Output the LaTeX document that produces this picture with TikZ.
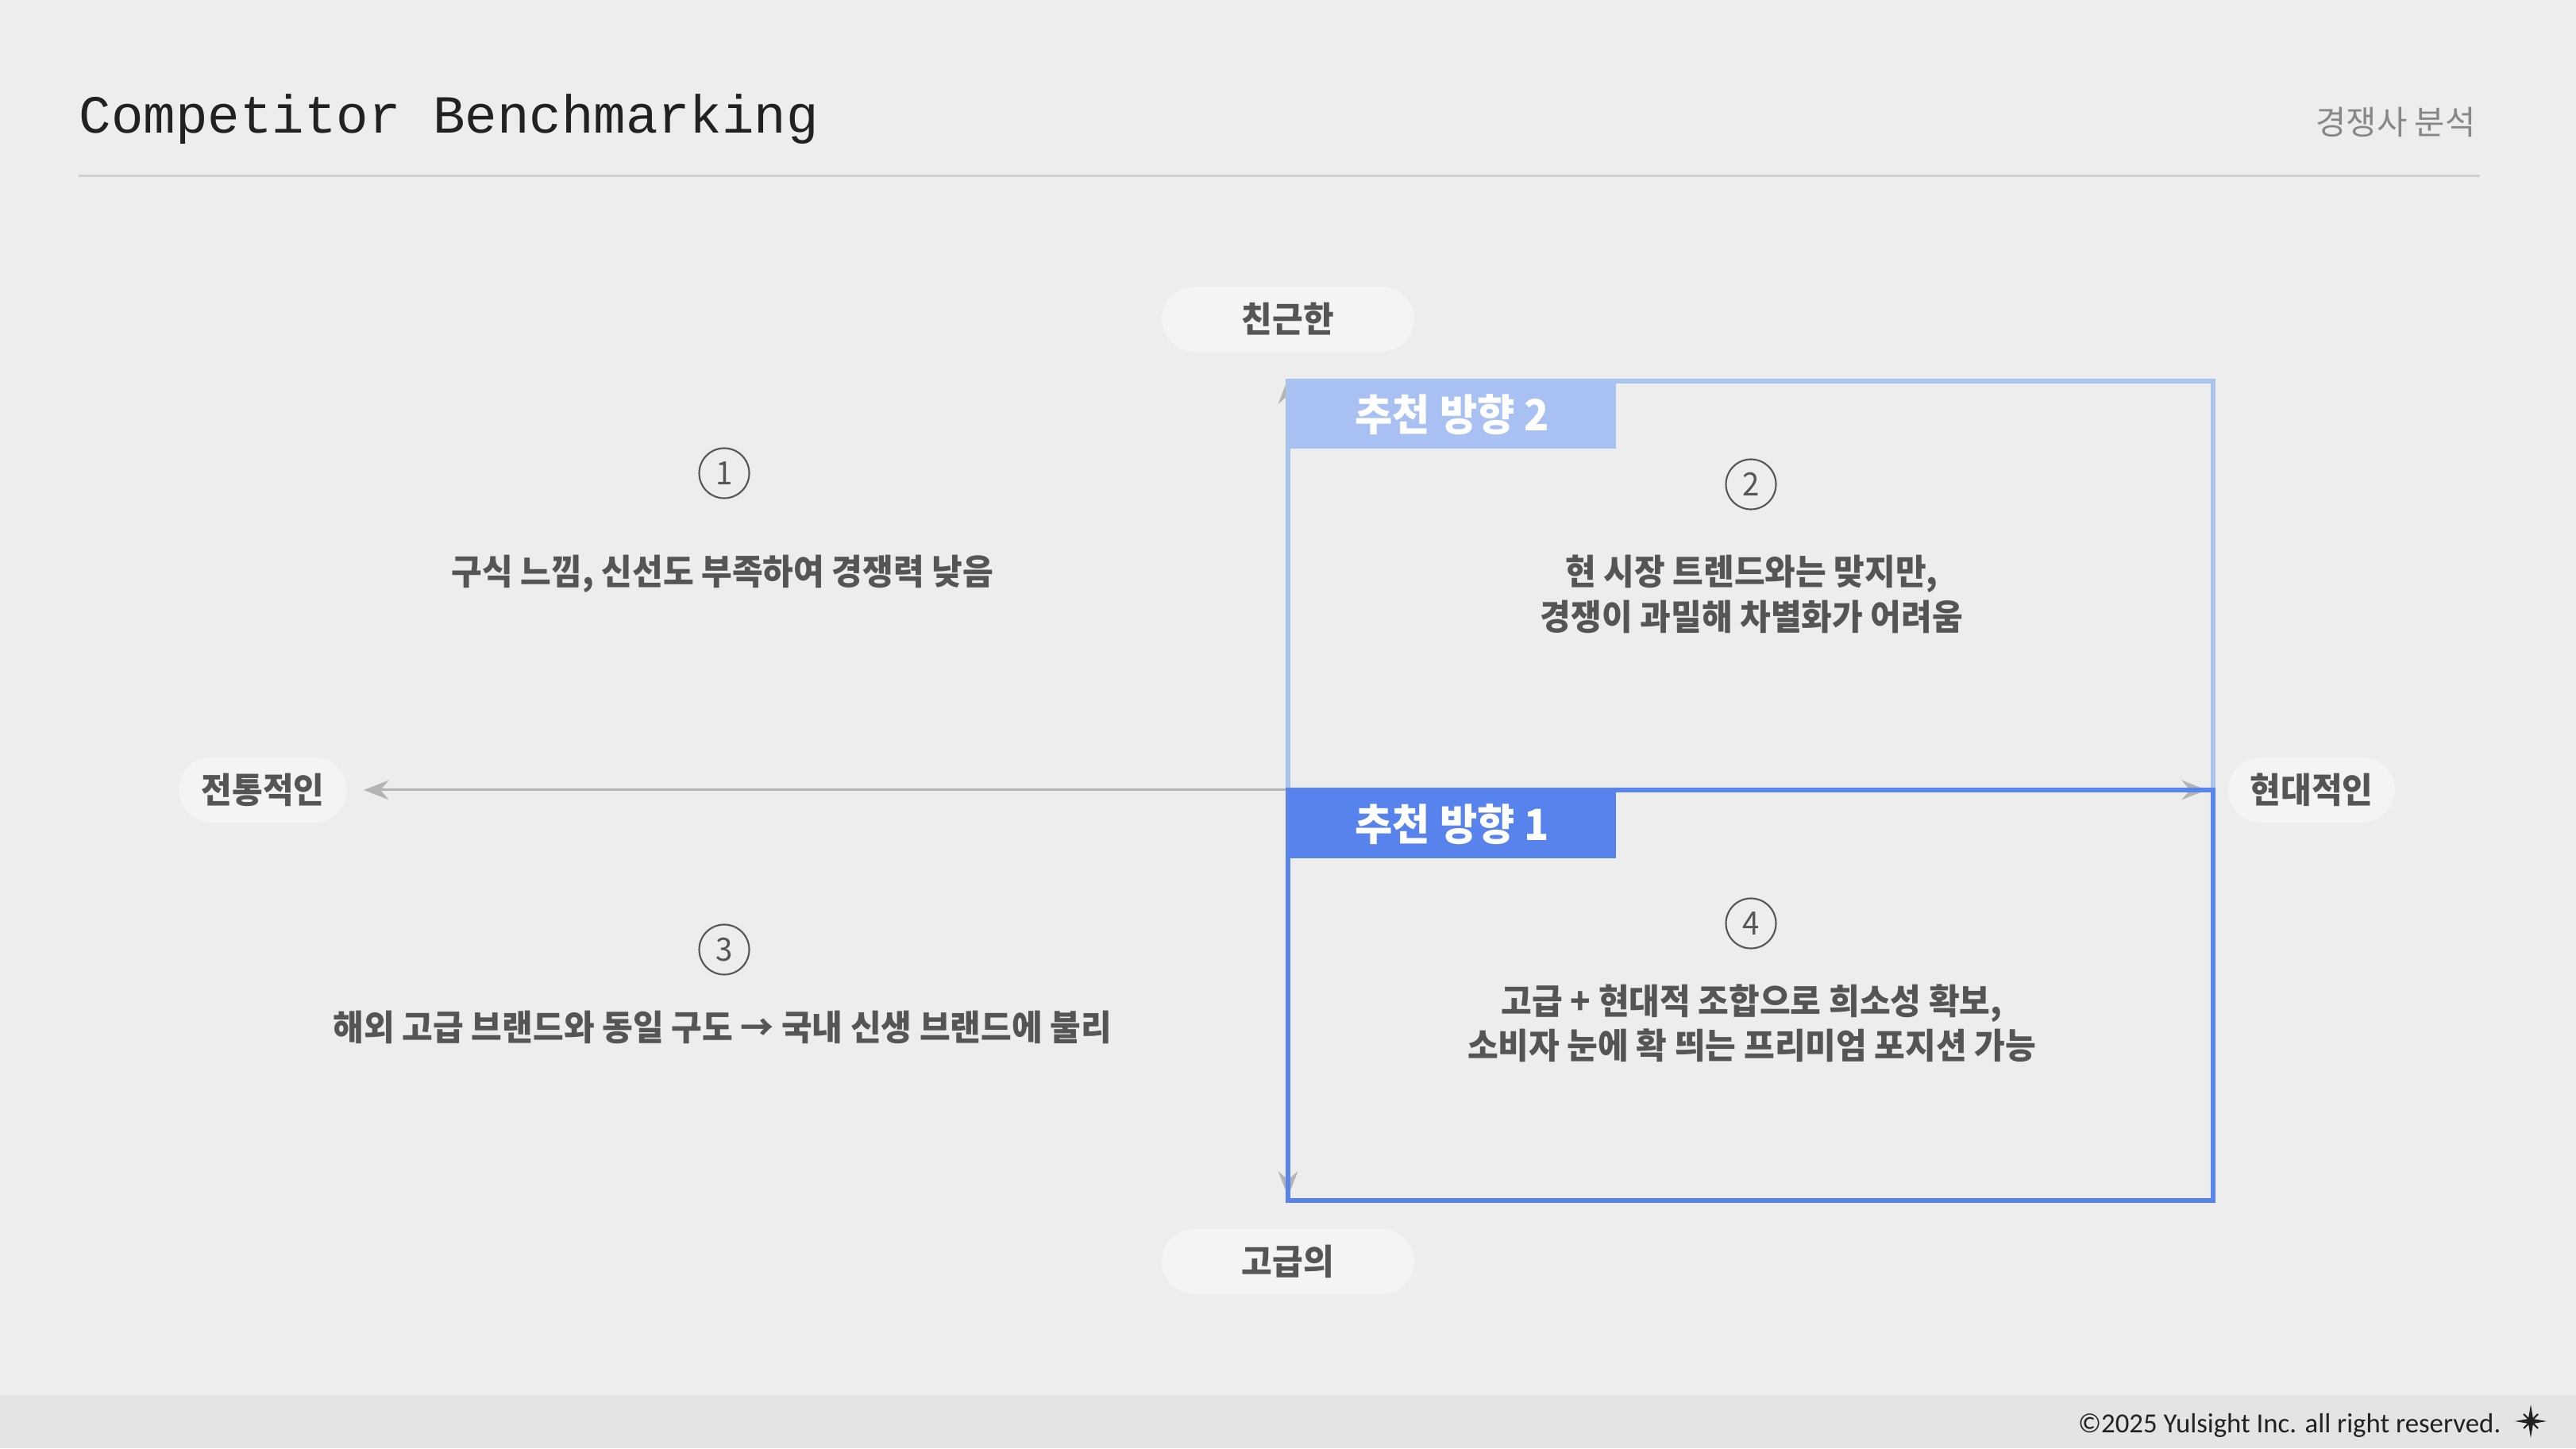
\documentclass[tikz,border=0pt]{standalone}
\usepackage{fontspec}
\usetikzlibrary{arrows.meta}

\setmainfont{Noto Sans CJK KR}
\newfontfamily\krfont[FakeStretch=0.95]{Noto Sans CJK KR}
\newfontfamily\titlefont{Liberation Mono}
\newfontfamily\footfont{Carlito}

\definecolor{bgGray}{HTML}{EDEDED}
\definecolor{footGray}{HTML}{E4E4E4}
\definecolor{ruleGray}{HTML}{CFCFCF}
\definecolor{axisGray}{HTML}{B4B4B4}
\definecolor{pillFill}{HTML}{F4F4F4}
\definecolor{txtGray}{HTML}{555555}
\definecolor{lightBorder}{HTML}{A7C5EA}
\definecolor{lightTab}{HTML}{A9C1F2}
\definecolor{darkBorder}{HTML}{5884EC}
\definecolor{darkTab}{HTML}{5883EC}

\tikzset{
	pill/.style={fill=pillFill, rounded corners=0.41cm, minimum height=0.82cm, inner sep=0pt, text=txtGray, font=\krfont\bfseries\fontsize{12.6}{14}\selectfont},
	axis/.style={draw=axisGray, line width=0.85pt, -{Stealth[length=9pt, width=7pt, inset=3pt]}},
	tab/.style={anchor=north west, minimum width=4.12cm, minimum height=0.85cm, inner sep=0pt, text=white, font=\krfont\bfseries\fontsize{15.4}{16}\selectfont},
	num/.style={circle, draw=txtGray, line width=0.6pt, minimum size=0.63cm, inner sep=0pt, text=txtGray, font=\krfont\fontsize{11.5}{12}\selectfont},
	body/.style={align=center, inner sep=0pt, text=txtGray, font=\krfont\bfseries\fontsize{12.6}{16}\selectfont}
}

\begin{document}
\begin{tikzpicture}

	\useasboundingbox (0,0) rectangle (32.44,18.24);
	\fill[bgGray] (0,0) rectangle (32.44,18.24);
	\fill[footGray] (0,0) rectangle (32.44,0.67);

	% header
	\node[anchor=base west, inner sep=0pt, text=black!87, font=\titlefont\fontsize{19.2}{20}\selectfont] (title) at (0.99,16.56) {Competitor Benchmarking};
	\node[anchor=east, inner sep=0pt, text=black!47, font=\fontsize{11.85}{13}\selectfont] (subtitle) at (31.18,16.70) {경쟁사 분석};
	\draw[ruleGray, line width=0.85pt] (0.99,16.02) -- (31.23,16.02);

	% axes
	\coordinate (o) at (16.22,8.29);
	\coordinate (tipW) at (4.58,8.29);
	\coordinate (tipE) at (27.79,8.29);
	\coordinate (tipN) at (16.22,13.47);
	\coordinate (tipS) at (16.22,3.17);
	\draw[axis] (o) -- (tipW);
	\draw[axis] (o) -- (tipE);
	\draw[axis] (o) -- (tipN);
	\draw[axis] (o) -- (tipS);

	\node[pill, minimum width=3.18cm] (friendly) at (16.22,14.22) {친근한};
	\node[pill, minimum width=3.18cm] (luxury) at (16.22,2.35) {고급의};
	\node[pill, minimum width=2.12cm] (classic) at (3.31,8.29) {전통적인};
	\node[pill, minimum width=2.10cm] (modern) at (29.11,8.29) {현대적인};

	% recommended boxes
	\draw[lightBorder, line width=1.7pt] (16.22,8.29) rectangle (27.87,13.44);
	\node[tab, fill=lightTab] (tabTwo) at (16.22,13.45) {추천 방향 2};
	\draw[darkBorder, line width=1.7pt] (16.22,3.12) rectangle (27.87,8.29);
	\node[tab, fill=darkTab] (tabOne) at (16.22,8.29) {추천 방향 1};

	% quadrants
	\node[num] (n1) at (9.12,12.28) {1};
	\node[body] (q1) at (9.10,11.01) {구식 느낌, 신선도 부족하여 경쟁력 낮음};
	\node[num] (n2) at (22.05,12.14) {2};
	\node[body] (q2) at (22.06,10.755) {현 시장 트렌드와는 맞지만,\\경쟁이 과밀해 차별화가 어려움};
	\node[num] (n3) at (9.12,6.28) {3};
	\node[body] (q3) at (9.10,5.30) {해외 고급 브랜드와 동일 구도 → 국내 신생 브랜드에 불리};
	\node[num] (n4) at (22.05,6.61) {4};
	\node[body] (q4) at (22.06,5.355) {고급 + 현대적 조합으로 희소성 확보,\\소비자 눈에 확 띄는 프리미엄 포지션 가능};

	% footer
	\node[anchor=east, inner sep=0pt, text=black!87, font=\footfont\fontsize{9.9}{12}\selectfont] (copyright) at (31.50,0.29) {©2025 Yulsight Inc. all right reserved.};
	\fill[black!87] (31.87,0.55) -- (31.90,0.37) -- (32.07,0.34) -- (31.90,0.31) -- (31.87,0.13) -- (31.84,0.31) -- (31.67,0.34) -- (31.84,0.37) -- cycle;
	\draw[black!87, line width=0.6pt] (31.78,0.43) -- (31.96,0.25) (31.78,0.25) -- (31.96,0.43);

\end{tikzpicture}
\end{document}
